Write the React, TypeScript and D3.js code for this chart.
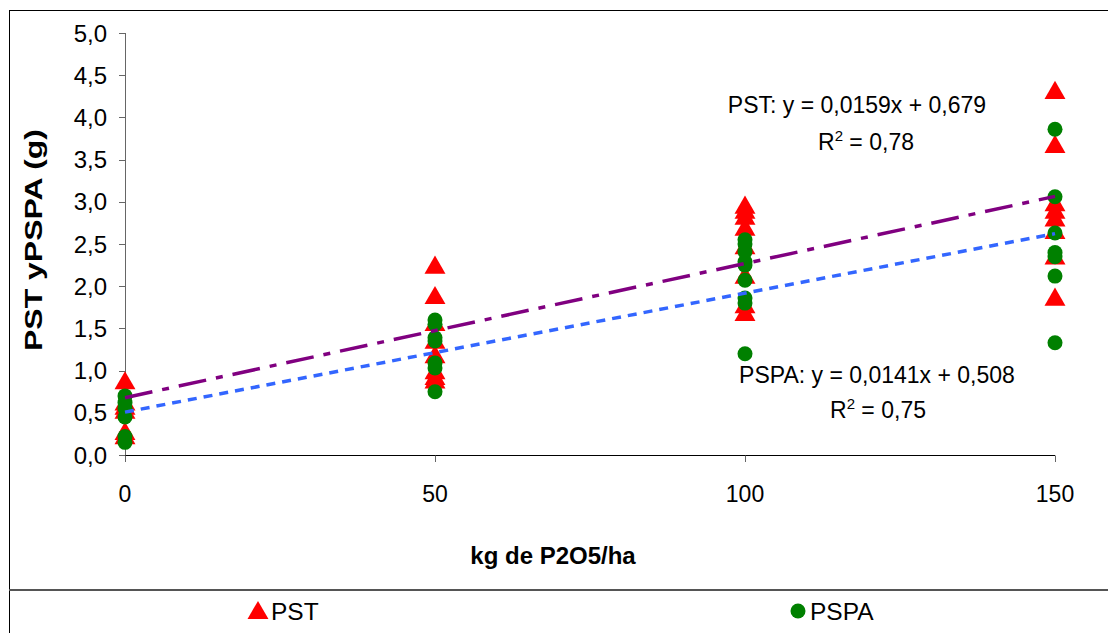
import React from "react";
import * as d3 from "d3";

const doses = [0, 50, 100, 150];
const pstValues: number[][] = [
  [0.85, 0.6, 0.55, 0.5, 0.25, 0.2],
  [2.22, 1.86, 1.54, 1.33, 1.16, 0.97, 0.9, 0.86],
  [2.93, 2.87, 2.8, 2.67, 2.45, 2.1, 1.75, 1.66],
  [4.29, 3.65, 2.96, 2.87, 2.78, 2.63, 2.33, 1.84],
];
const pspaValues: number[][] = [
  [0.7, 0.62, 0.55, 0.45, 0.22, 0.15],
  [1.6, 1.55, 1.39, 1.35, 1.09, 1.03, 0.75],
  [2.55, 2.5, 2.41, 2.29, 2.25, 2.07, 1.86, 1.8, 1.2],
  [3.86, 3.06, 2.63, 2.4, 2.35, 2.12, 1.33],
];
const pstFit = { slope: 0.0159, intercept: 0.679 };
const pspaFit = { slope: 0.0141, intercept: 0.508 };
const yTicks = [0, 0.5, 1, 1.5, 2, 2.5, 3, 3.5, 4, 4.5, 5];
const xTicks = [0, 50, 100, 150];
const seriesNames = ["PST", "PSPA"];

const FONT = "'Liberation Sans', Arial, sans-serif";

export default function App() {
  const x = d3.scaleLinear().domain([0, 150]).range([125, 1055]);
  const y = d3.scaleLinear().domain([0, 5]).range([455, 33]);
  const fmt = (v: number) => v.toFixed(1).replace(".", ",");
  const tri = d3.symbol().type(d3.symbolTriangle).size(190)()!;
  const fitPath = (f: { slope: number; intercept: number }) =>
    d3
      .line<number>()
      .x((d) => x(d))
      .y((d) => y(f.slope * d + f.intercept))([0, 150])!;

  const pstPts = doses.flatMap((dose, i) => pstValues[i].map((v) => [dose, v]));
  const pspaPts = doses.flatMap((dose, i) => pspaValues[i].map((v) => [dose, v]));

  return (
    <svg width={1108} height={633} style={{ display: "block", position: "absolute", left: 0, top: 0 }} fontFamily={FONT}>
      <rect x={0} y={0} width={1108} height={633} fill="#fff" />
      <rect x={9.5} y={10.5} width={1120} height={640} fill="none" stroke="#000" strokeWidth={1} />
      <line x1={9} x2={1108} y1={590} y2={590} stroke="#555" strokeWidth={2} />

      {/* axes */}
      <line x1={125.5} x2={125.5} y1={y(5)} y2={y(0)} stroke="#666" />
      {yTicks.map((t) => (
        <g key={t}>
          <line x1={119} x2={125.5} y1={Math.round(y(t)) + 0.5} y2={Math.round(y(t)) + 0.5} stroke="#666" />
          <text x={107} y={y(t)} dy="0.36em" textAnchor="end" fontSize={24}>
            {fmt(t)}
          </text>
        </g>
      ))}
      <line x1={125} x2={x(150)} y1={455.5} y2={455.5} stroke="#000" />
      {xTicks.map((t) => (
        <g key={t}>
          <line x1={Math.round(x(t)) + 0.5} x2={Math.round(x(t)) + 0.5} y1={455.5} y2={462} stroke="#666" />
          <text x={x(t)} y={502} textAnchor="middle" fontSize={23}>
            {t}
          </text>
        </g>
      ))}

      <text x={553} y={564} textAnchor="middle" fontSize={24} fontWeight="bold">
        kg de P2O5/ha
      </text>
      <text
        transform={`translate(42,240) rotate(-90)`}
        textAnchor="middle"
        fontSize={24}
        fontWeight="bold"
        textLength={222}
        lengthAdjust="spacingAndGlyphs"
      >
        PST yPSPA (g)
      </text>

      {/* markers */}
      {pstPts.map(([dx, v], i) => (
        <path key={"t" + i} d={tri} transform={`translate(${x(dx)},${y(v)})`} fill="#FF0000" />
      ))}
      {pspaPts.map(([dx, v], i) => (
        <circle key={"c" + i} cx={x(dx)} cy={y(v)} r={7.5} fill="#008000" />
      ))}

      {/* trend lines */}
      <path d={fitPath(pstFit)} fill="none" stroke="#800080" strokeWidth={3.5} strokeDasharray="28,10,7,10" />
      <path d={fitPath(pspaFit)} fill="none" stroke="#3366FF" strokeWidth={3.5} strokeDasharray="9,7" />

      {/* equations */}
      <text x={857} y={113} textAnchor="middle" fontSize={23}>
        PST: y = 0,0159x + 0,679
      </text>
      <text x={866} y={150} textAnchor="middle" fontSize={23}>
        R<tspan dy={-9} fontSize={15}>2</tspan>
        <tspan dy={9}> = 0,78</tspan>
      </text>
      <text x={877} y={383} textAnchor="middle" fontSize={23}>
        PSPA: y = 0,0141x + 0,508
      </text>
      <text x={878} y={418} textAnchor="middle" fontSize={23}>
        R<tspan dy={-9} fontSize={15}>2</tspan>
        <tspan dy={9}> = 0,75</tspan>
      </text>

      {/* legend */}
      <path d={tri} transform={`translate(258,613)`} fill="#FF0000" />
      <text x={271} y={611} dy="0.36em" fontSize={24.5}>
        {seriesNames[0]}
      </text>
      <circle cx={798} cy={611} r={7.5} fill="#008000" />
      <text x={810} y={611} dy="0.36em" fontSize={24.5}>
        {seriesNames[1]}
      </text>
    </svg>
  );
}
